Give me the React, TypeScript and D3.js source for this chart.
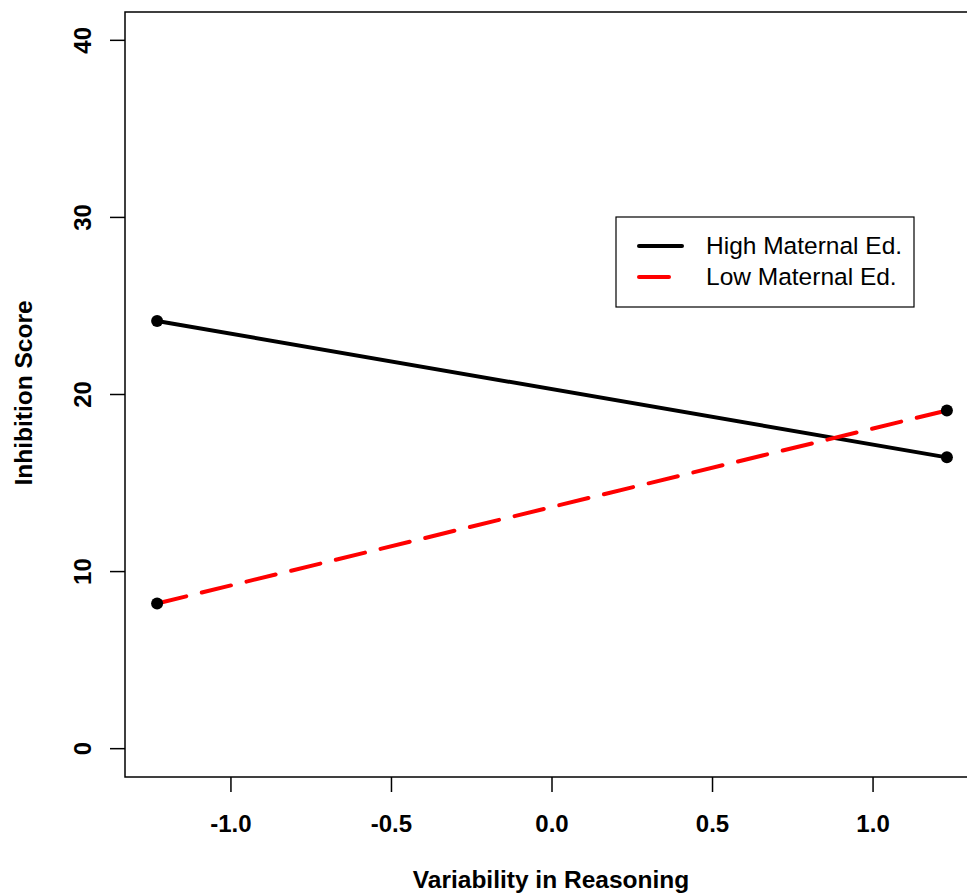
import * as d3 from 'd3';

const W = 967, H = 896;
const M = { left: 125, top: 12, plotW: 854, plotH: 765 };

const xValues = [-1.23, 1.23];
const highEd = [24.15, 16.45];
const lowEd = [8.2, 19.1];
const xTicks = [-1.0, -0.5, 0.0, 0.5, 1.0];
const yTicks = [0, 10, 20, 30, 40];
const seriesNames = ['High Maternal Ed.', 'Low Maternal Ed.'];

const FONT = 'Liberation Sans, Arial, Helvetica, sans-serif';
const DASH = '30,16';

export default function App() {
  const x = d3.scaleLinear().domain([-1.33, 1.33]).range([M.left, M.left + M.plotW]);
  const y = d3.scaleLinear().domain([-1.6, 41.6]).range([M.top + M.plotH, M.top]);
  const line = d3.line<number>().x((_, i) => x(xValues[i])).y(d => y(d));
  const bottom = M.top + M.plotH;

  return (
    <svg width={W} height={H} style={{ position: 'absolute', left: 0, top: 0 }} fontFamily={FONT}>
      <rect x={0} y={0} width={W} height={H} fill="white" />
      {/* lines */}
      <path d={line(highEd) ?? ''} fill="none" stroke="black" strokeWidth={4} strokeLinecap="round" />
      <path d={line(lowEd) ?? ''} fill="none" stroke="#ff0000" strokeWidth={4} strokeLinecap="round" strokeDasharray={DASH} />
      {[...highEd, ...lowEd].map((v, i) => (
        <circle key={i} cx={x(xValues[i % 2])} cy={y(v)} r={6} fill="black" />
      ))}
      {/* box */}
      <rect x={M.left} y={M.top} width={M.plotW} height={M.plotH} fill="none" stroke="black" strokeWidth={1.5} />
      {/* x axis */}
      {xTicks.map(t => (
        <g key={t}>
          <line x1={x(t)} x2={x(t)} y1={bottom} y2={bottom + 15} stroke="black" strokeWidth={1.5} />
          <text x={x(t)} y={bottom + 55} textAnchor="middle" fontSize={24} fontWeight="bold">{t.toFixed(1)}</text>
        </g>
      ))}
      {/* y axis */}
      {yTicks.map(t => (
        <g key={t}>
          <line x1={M.left} x2={M.left - 15} y1={y(t)} y2={y(t)} stroke="black" strokeWidth={1.5} />
          <text transform={`translate(${M.left - 34},${y(t)}) rotate(-90)`} textAnchor="middle" fontSize={24} fontWeight="bold">{t}</text>
        </g>
      ))}
      <text x={551} y={888} textAnchor="middle" fontSize={24.5} fontWeight="bold">Variability in Reasoning</text>
      <text transform={`translate(32,393) rotate(-90)`} textAnchor="middle" fontSize={24.5} fontWeight="bold">Inhibition Score</text>
      {/* legend */}
      <rect x={616} y={217} width={298} height={90} fill="white" stroke="black" strokeWidth={1.2} />
      {seriesNames.map((n, i) => (
        <g key={n}>
          <line x1={639} x2={682} y1={246 + i * 31} y2={246 + i * 31} stroke={i === 0 ? 'black' : '#ff0000'} strokeWidth={4} strokeLinecap="round" strokeDasharray={i === 0 ? undefined : DASH} />
          <text x={706} y={254 + i * 31} fontSize={24.5}>{n}</text>
        </g>
      ))}
    </svg>
  );
}
